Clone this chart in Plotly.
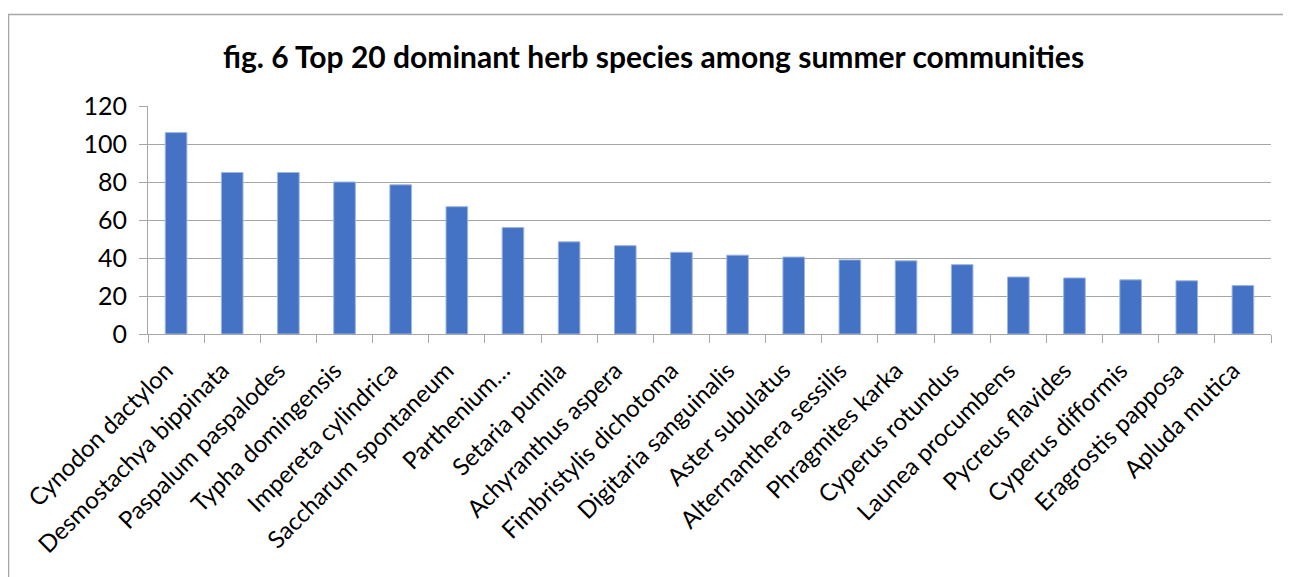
import plotly.graph_objects as go

species = [
    "Cynodon dactylon", "Desmostachya bippinata", "Paspalum paspalodes",
    "Typha domingensis", "Impereta cylindrica", "Saccharum spontaneum",
    "Parthenium…", "Setaria pumila", "Achyranthus aspera",
    "Fimbristylis dichotoma", "Digitaria sanguinalis", "Aster subulatus",
    "Alternanthera sessilis", "Phragmites karka", "Cyperus rotundus",
    "Launea procumbens", "Pycreus flavides", "Cyperus difformis",
    "Eragrostis papposa", "Apluda mutica",
]
values = [106, 85, 85, 80, 78.5, 67, 56, 48.5, 46.5, 43,
          41.5, 40.5, 39, 38.5, 36.5, 30, 29.5, 28.5, 28, 25.5]
y_ticks = [0, 20, 40, 60, 80, 100, 120]
title_text = "fig. 6 Top 20 dominant herb species among summer communities"

# page has an 8px body margin; figure coordinates = page coordinates - 8
OFF = 8
W, H = 1291 - OFF, 577 - OFF
L = 148 - OFF
T = 106 - OFF
R = W - (1271 - OFF)
B = H - (334 - OFF)
pw, ph = W - L - R, H - T - B

fig = go.Figure(go.Bar(
    x=species, y=values,
    marker=dict(color="#4472C4", line=dict(color="#9DB5E0", width=1)),
    hoverinfo="x+y",
))

def px2paper_x(px):
    return (px - OFF - L) / pw

def py2paper_y(py):
    return (H - B - (py - OFF)) / ph

fig.update_layout(
    width=W, height=H,
    margin=dict(l=L, r=R, t=T, b=B),
    paper_bgcolor="white", plot_bgcolor="white",
    font=dict(family="Lato, Noto Sans, sans-serif", color="#000000"),
    title=dict(text="<b>" + title_text + "</b>", x=(653.5 - OFF) / W, xref="container",
               xanchor="center", y=1 - (57 - OFF) / H, yref="container", yanchor="middle",
               font=dict(size=30, family="Lato, sans-serif", color="#000000")),
    bargap=0.615,
    showlegend=False,
    xaxis=dict(
        type="category", tickangle=-45, tickson="boundaries",
        ticks="outside", ticklen=8, tickcolor="#a6a6a6", tickwidth=1,
        showline=True, linecolor="#a6a6a6", linewidth=1,
        showgrid=False, tickfont=dict(size=24, color="#000000"),
        ticklabelstandoff=12, ticklabelshift=-10,
    ),
    yaxis=dict(
        range=[0, 120], tickvals=y_ticks, ticktext=[str(v) for v in y_ticks],
        ticks="outside", ticklen=8, tickcolor="#a6a6a6",
        showline=True, linecolor="#a6a6a6", linewidth=1,
        showgrid=True, gridcolor="#a6a6a6", gridwidth=1,
        zeroline=False, tickfont=dict(size=25, color="#000000"),
        ticklabelstandoff=7,
    ),
    shapes=[dict(
        type="rect", xref="paper", yref="paper", layer="below",
        x0=px2paper_x(8.5), x1=px2paper_x(1320),
        y0=py2paper_y(620), y1=py2paper_y(14.5),
        line=dict(color="#a6a6a6", width=1.5), fillcolor="rgba(0,0,0,0)",
    )],
)

fig.write_html("out.html")
